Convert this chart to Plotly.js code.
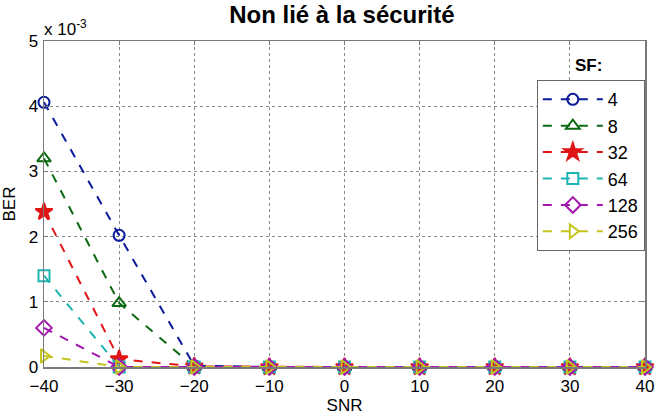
<!DOCTYPE html>
<html><head><meta charset="utf-8">
<script src="https://cdn.plot.ly/plotly-3.0.1.min.js"></script>
<style>html,body{margin:0;padding:0;background:#fff}#c{width:660px;height:415px}</style>
</head><body><div id="c"></div>
<script>
const snr = [-40, -30, -20, -10, 0, 10, 20, 30, 40];
const sfLabels = ['4', '8', '32', '64', '128', '256'];
const ber4   = [4.06e-3, 2.02e-3, 0.02e-3, 0, 0, 0, 0, 0, 0];
const ber8   = [3.20e-3, 0.98e-3, 0, 0, 0, 0, 0, 0, 0];
const ber32  = [2.38e-3, 0.12e-3, 0.01e-3, 0, 0, 0, 0, 0, 0];
const ber64  = [1.40e-3, 0, 0, 0, 0, 0, 0, 0, 0];
const ber128 = [0.60e-3, 0, 0, 0, 0, 0, 0, 0, 0];
const ber256 = [0.17e-3, 0, 0, 0, 0, 0, 0, 0, 0];
const yTickVals = [0, 1e-3, 2e-3, 3e-3, 4e-3, 5e-3];
const yTickText = ['0', '1', '2', '3', '4', '5'];
const xTickVals = [-40, -30, -20, -10, 0, 10, 20, 30, 40];

const series = [ber4, ber8, ber32, ber64, ber128, ber256];
const colors = ['#0a1a9a', '#0b6a12', '#e01515', '#1eb4b4', '#a516b0', '#c4c41e'];
const symbols = ['circle-open', 'triangle-up-open', 'star', 'square-open', 'diamond-open', 'triangle-right-open'];
const sizes = [11, 12, 13, 11, 12, 12];
const F = 'Liberation Sans, Arial, sans-serif';

const traces = series.map((y, i) => ({
  x: snr, y: y, name: sfLabels[i], type: 'scatter', mode: 'lines+markers',
  line: {color: colors[i], width: 2, dash: 'dash'},
  marker: {symbol: symbols[i], color: colors[i], size: sizes[i], line: {color: colors[i], width: 2}},
  cliponaxis: false
}));

const axisCommon = {
  showline: true, mirror: 'ticks', linecolor: '#7a7a7a', linewidth: 1.5,
  ticks: 'inside', ticklen: 4, tickcolor: '#7a7a7a',
  showgrid: true, gridcolor: '#888', griddash: 'dot', gridwidth: 1,
  zeroline: false, tickfont: {family: F, size: 17, color: '#000'}
};

const layout = {
  width: 660, height: 415,
  margin: {l: 44, r: 15, t: 41, b: 48},
  paper_bgcolor: '#fff', plot_bgcolor: '#fff',
  title: {text: '<b>Non lié à la sécurité</b>', x: 0.518, xanchor: 'center', y: 0.985, yanchor: 'top',
    font: {family: F, size: 24, color: '#000'}},
  xaxis: Object.assign({}, axisCommon, {range: [-40, 40], tickvals: xTickVals, ticklabelstandoff: 3,
    title: {text: 'SNR', standoff: 6, font: {family: F, size: 17, color: '#000'}}}),
  yaxis: Object.assign({}, axisCommon, {range: [0, 5e-3], tickvals: yTickVals, ticktext: yTickText, ticklabelstandoff: 1,
    title: {text: 'BER', standoff: 8, font: {family: F, size: 17, color: '#000'}}}),
  legend: {x: 0.82, y: 0.88, xanchor: 'left', yanchor: 'top', bgcolor: '#fff', bordercolor: '#666', borderwidth: 1,
    font: {family: F, size: 18, color: '#000'}, tracegroupgap: 0, itemwidth: 60},
  annotations: [
    {text: 'x 10<sup>-3</sup>', xref: 'paper', yref: 'paper', x: 0.0, y: 1.0, xanchor: 'left', yanchor: 'bottom',
      showarrow: false, font: {family: F, size: 17, color: '#000'}, xshift: -2},
    {text: '<b>SF:</b>', xref: 'paper', yref: 'paper', x: 0.88, y: 0.89, xanchor: 'left', yanchor: 'bottom',
      showarrow: false, font: {family: F, size: 17, color: '#000'}}
  ],
  showlegend: true
};
Plotly.newPlot('c', traces, layout, {displayModeBar: false, staticPlot: true});
</script></body></html>
